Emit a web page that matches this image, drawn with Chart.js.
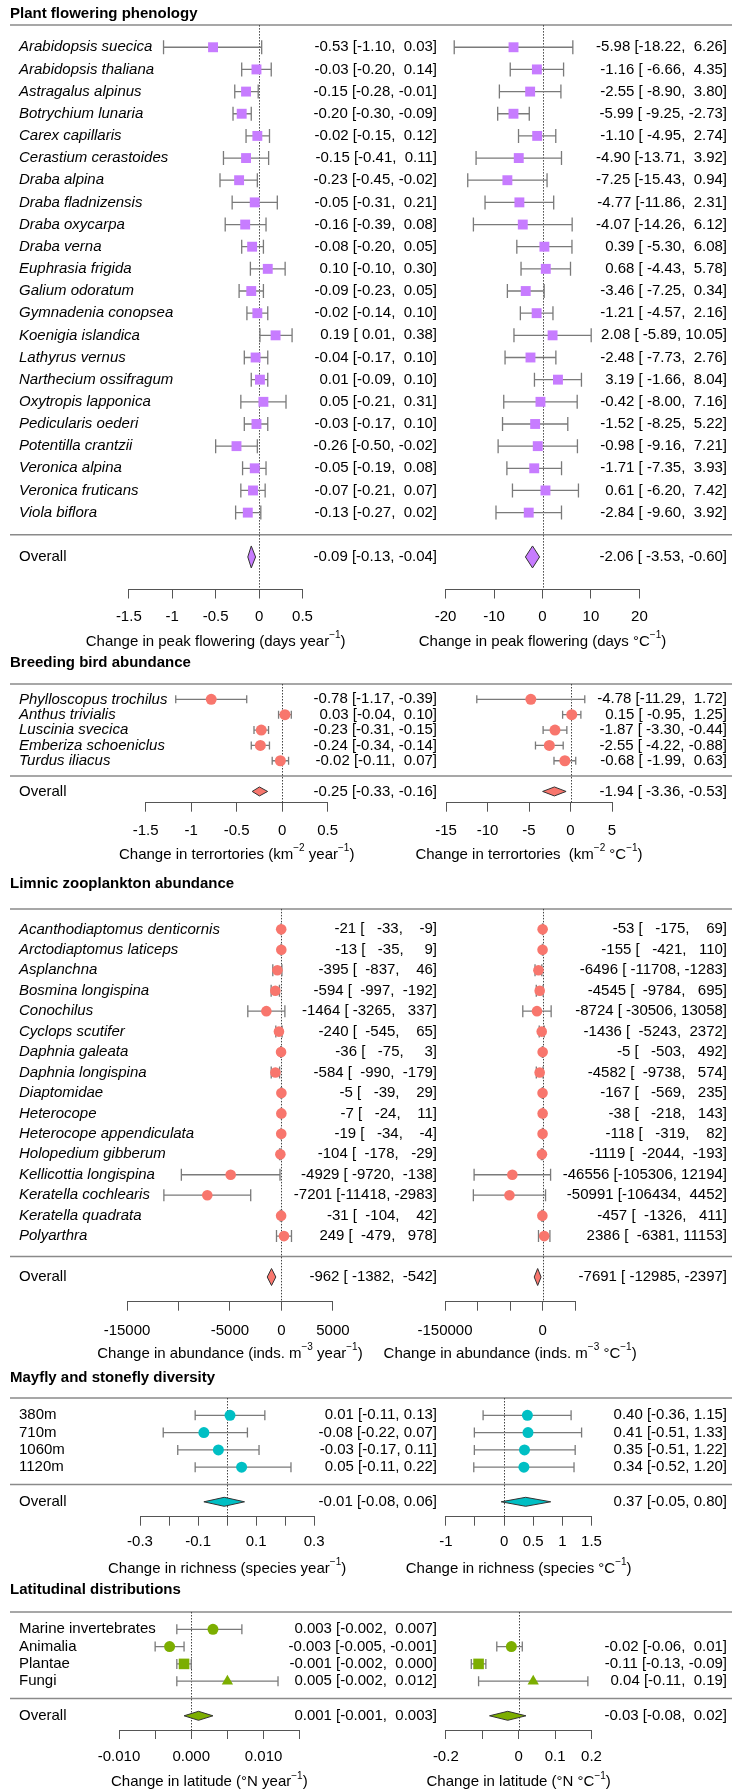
<!DOCTYPE html>
<html>
<head>
<meta charset="utf-8">
<script src="https://cdn.jsdelivr.net/npm/chart.js@4.4.1/dist/chart.umd.min.js"></script>
<style>
html, body { margin: 0; padding: 0; background: #fff; overflow: hidden; }
#page { position: relative; width: 732px; height: 1790px; overflow: hidden; background: #fff; }
canvas { position: absolute; }
</style>
</head>
<body>
<div id="page"></div>
<script>
// plant flowering phenology
const plantSpecies = ['Arabidopsis suecica', 'Arabidopsis thaliana', 'Astragalus alpinus', 'Botrychium lunaria',
    'Carex capillaris', 'Cerastium cerastoides', 'Draba alpina', 'Draba fladnizensis', 'Draba oxycarpa',
    'Draba verna', 'Euphrasia frigida', 'Galium odoratum', 'Gymnadenia conopsea', 'Koenigia islandica',
    'Lathyrus vernus', 'Narthecium ossifragum', 'Oxytropis lapponica', 'Pedicularis oederi',
    'Potentilla crantzii', 'Veronica alpina', 'Veronica fruticans', 'Viola biflora'];
const plantYearEst = [-0.53, -0.03, -0.15, -0.20, -0.02, -0.15, -0.23, -0.05, -0.16, -0.08, 0.10, -0.09, -0.02, 0.19, -0.04, 0.01, 0.05, -0.03, -0.26, -0.05, -0.07, -0.13];
const plantYearLo = [-1.10, -0.20, -0.28, -0.30, -0.15, -0.41, -0.45, -0.31, -0.39, -0.20, -0.10, -0.23, -0.14, 0.01, -0.17, -0.09, -0.21, -0.17, -0.50, -0.19, -0.21, -0.27];
const plantYearHi = [0.03, 0.14, -0.01, -0.09, 0.12, 0.11, -0.02, 0.21, 0.08, 0.05, 0.30, 0.05, 0.10, 0.38, 0.10, 0.10, 0.31, 0.10, -0.02, 0.08, 0.07, 0.02];
const plantTempEst = [-5.98, -1.16, -2.55, -5.99, -1.10, -4.90, -7.25, -4.77, -4.07, 0.39, 0.68, -3.46, -1.21, 2.08, -2.48, 3.19, -0.42, -1.52, -0.98, -1.71, 0.61, -2.84];
const plantTempLo = [-18.22, -6.66, -8.90, -9.25, -4.95, -13.71, -15.43, -11.86, -14.26, -5.30, -4.43, -7.25, -4.57, -5.89, -7.73, -1.66, -8.00, -8.25, -9.16, -7.35, -6.20, -9.60];
const plantTempHi = [6.26, 4.35, 3.80, -2.73, 2.74, 3.92, 0.94, 2.31, 6.12, 6.08, 5.78, 0.34, 2.16, 10.05, 2.76, 8.04, 7.16, 5.22, 7.21, 3.93, 7.42, 3.92];
const plantOverallYear = [-0.09, -0.13, -0.04];
const plantOverallTemp = [-2.06, -3.53, -0.60];
const plantYearTicks = [-1.5, -1, -0.5, 0, 0.5];
const plantYearTickLabels = ['-1.5', '-1', '-0.5', '0', '0.5'];
const plantTempTicks = [-20, -10, 0, 10, 20];
const plantTempTickLabels = ['-20', '-10', '0', '10', '20'];

// breeding birds
const birdSpecies = ['Phylloscopus trochilus', 'Anthus trivialis', 'Luscinia svecica', 'Emberiza schoeniclus', 'Turdus iliacus'];
const birdYearEst = [-0.78, 0.03, -0.23, -0.24, -0.02];
const birdYearLo = [-1.17, -0.04, -0.31, -0.34, -0.11];
const birdYearHi = [-0.39, 0.10, -0.15, -0.14, 0.07];
const birdTempEst = [-4.78, 0.15, -1.87, -2.55, -0.68];
const birdTempLo = [-11.29, -0.95, -3.30, -4.22, -1.99];
const birdTempHi = [1.72, 1.25, -0.44, -0.88, 0.63];
const birdOverallYear = [-0.25, -0.33, -0.16];
const birdOverallTemp = [-1.94, -3.36, -0.53];
const birdYearTicks = [-1.5, -1, -0.5, 0, 0.5];
const birdYearTickLabels = ['-1.5', '-1', '-0.5', '0', '0.5'];
const birdTempTicks = [-15, -10, -5, 0, 5];
const birdTempTickLabels = ['-15', '-10', '-5', '0', '5'];

// limnic zooplankton
const zooTaxa = ['Acanthodiaptomus denticornis', 'Arctodiaptomus laticeps', 'Asplanchna', 'Bosmina longispina',
    'Conochilus', 'Cyclops scutifer', 'Daphnia galeata', 'Daphnia longispina', 'Diaptomidae', 'Heterocope',
    'Heterocope appendiculata', 'Holopedium gibberum', 'Kellicottia longispina', 'Keratella cochlearis',
    'Keratella quadrata', 'Polyarthra'];
const zooYearEst = [-21, -13, -395, -594, -1464, -240, -36, -584, -5, -7, -19, -104, -4929, -7201, -31, 249];
const zooYearLo = [-33, -35, -837, -997, -3265, -545, -75, -990, -39, -24, -34, -178, -9720, -11418, -104, -479];
const zooYearHi = [-9, 9, 46, -192, 337, 65, 3, -179, 29, 11, -4, -29, -138, -2983, 42, 978];
const zooTempEst = [-53, -155, -6496, -4545, -8724, -1436, -5, -4582, -167, -38, -118, -1119, -46556, -50991, -457, 2386];
const zooTempLo = [-175, -421, -11708, -9784, -30506, -5243, -503, -9738, -569, -218, -319, -2044, -105306, -106434, -1326, -6381];
const zooTempHi = [69, 110, -1283, 695, 13058, 2372, 492, 574, 235, 143, 82, -193, 12194, 4452, 411, 11153];
const zooOverallYear = [-962, -1382, -542];
const zooOverallTemp = [-7691, -12985, -2397];
const zooYearTicks = [-15000, -10000, -5000, 0, 5000];
const zooYearTickLabels = ['-15000', '', '-5000', '0', '5000'];
const zooTempTicks = [-150000, -100000, -50000, 0, 50000];
const zooTempTickLabels = ['-150000', '', '', '0', ''];

// mayfly and stonefly diversity
const siteNames = ['380m', '710m', '1060m', '1120m'];
const mayYearEst = [0.01, -0.08, -0.03, 0.05];
const mayYearLo = [-0.11, -0.22, -0.17, -0.11];
const mayYearHi = [0.13, 0.07, 0.11, 0.22];
const mayTempEst = [0.40, 0.41, 0.35, 0.34];
const mayTempLo = [-0.36, -0.51, -0.51, -0.52];
const mayTempHi = [1.15, 1.33, 1.22, 1.20];
const mayOverallYear = [-0.01, -0.08, 0.06];
const mayOverallTemp = [0.37, -0.05, 0.80];
const mayYearTicks = [-0.3, -0.2, -0.1, 0, 0.1, 0.2, 0.3];
const mayYearTickLabels = ['-0.3', '', '-0.1', '', '0.1', '', '0.3'];
const mayTempTicks = [-1, -0.5, 0, 0.5, 1, 1.5];
const mayTempTickLabels = ['-1', '', '0', '0.5', '1', '1.5'];

// latitudinal distributions
const latGroups = ['Marine invertebrates', 'Animalia', 'Plantae', 'Fungi'];
const latShapes = ['circle', 'circle', 'rect', 'triangle'];
const latYearEst = [0.003, -0.003, -0.001, 0.005];
const latYearLo = [-0.002, -0.005, -0.002, -0.002];
const latYearHi = [0.007, -0.001, 0.000, 0.012];
const latTempEst = [null, -0.02, -0.11, 0.04];
const latTempLo = [null, -0.06, -0.13, -0.11];
const latTempHi = [null, 0.01, -0.09, 0.19];
const latOverallYear = [0.001, -0.001, 0.003];
const latOverallTemp = [-0.03, -0.08, 0.02];
const latYearTicks = [-0.010, -0.005, 0, 0.005, 0.010, 0.015];
const latYearTickLabels = ['-0.010', '', '0.000', '', '0.010', ''];
const latTempTicks = [-0.2, -0.1, 0, 0.1, 0.2];
const latTempTickLabels = ['-0.2', '', '0', '0.1', '0.2'];

// axis titles, [text, superscript]
const plantYearTitle = [['Change in peak flowering (days year', 0], ['\u22121', 1], [')', 0]];
const plantTempTitle = [['Change in peak flowering (days \u00B0C', 0], ['\u22121', 1], [')', 0]];
const birdYearTitle = [['Change in terrortories (km', 0], ['\u22122', 1], [' year', 0], ['\u22121', 1], [')', 0]];
const birdTempTitle = [['Change in terrortories  (km', 0], ['\u22122', 1], [' \u00B0C', 0], ['\u22121', 1], [')', 0]];
const zooYearTitle = [['Change in abundance (inds. m', 0], ['\u22123', 1], [' year', 0], ['\u22121', 1], [')', 0]];
const zooTempTitle = [['Change in abundance (inds. m', 0], ['\u22123', 1], [' \u00B0C', 0], ['\u22121', 1], [')', 0]];
const mayYearTitle = [['Change in richness (species year', 0], ['\u22121', 1], [')', 0]];
const mayTempTitle = [['Change in richness (species \u00B0C', 0], ['\u22121', 1], [')', 0]];
const latYearTitle = [['Change in latitude (\u00B0N year', 0], ['\u22121', 1], [')', 0]];
const latTempTitle = [['Change in latitude (\u00B0N \u00B0C', 0], ['\u22121', 1], [')', 0]];

const FAMILY = '"Liberation Sans", Arial, Helvetica, sans-serif';
Chart.defaults.font.family = FAMILY;
Chart.defaults.font.size = 15;
Chart.defaults.color = '#000';

const panels = [
    {
        title: 'Plant flowering phenology', labels: plantSpecies, italic: true, color: '#C77CFF',
        shapes: 'rect', radius: 7, capH: 7, diamondH: 22,
        titleY: 14, top: 25.1, rowH: 22.16, axisY: 589.5, tickGap: 27,
        sides: [
            {est: plantYearEst, lo: plantYearLo, hi: plantYearHi, overall: plantOverallYear, digits: 2,
                ticks: plantYearTicks, tickLabels: plantYearTickLabels, px: [128.8, 302.5], axisTitle: plantYearTitle},
            {est: plantTempEst, lo: plantTempLo, hi: plantTempHi, overall: plantOverallTemp, digits: 2,
                ticks: plantTempTicks, tickLabels: plantTempTickLabels, px: [445.6, 639.4], axisTitle: plantTempTitle}
        ]
    },
    {
        title: 'Breeding bird abundance', labels: birdSpecies, italic: true, color: '#F8766D',
        shapes: 'circle', radius: 5.5, capH: 4, diamondH: 9,
        titleY: 662.7, top: 684, rowH: 15.35, axisY: 802.7, tickGap: 28,
        sides: [
            {est: birdYearEst, lo: birdYearLo, hi: birdYearHi, overall: birdOverallYear, digits: 2,
                ticks: birdYearTicks, tickLabels: birdYearTickLabels, px: [145.7, 327.7], axisTitle: birdYearTitle},
            {est: birdTempEst, lo: birdTempLo, hi: birdTempHi, overall: birdOverallTemp, digits: 2,
                ticks: birdTempTicks, tickLabels: birdTempTickLabels, px: [446, 612], axisTitle: birdTempTitle}
        ]
    },
    {
        title: 'Limnic zooplankton abundance', labels: zooTaxa, italic: true, color: '#F8766D',
        shapes: 'circle', radius: 5.3, capH: 6, diamondH: 17,
        titleY: 884, top: 908.9, rowH: 20.45, axisY: 1301.7, tickGap: 29,
        sides: [
            {est: zooYearEst, lo: zooYearLo, hi: zooYearHi, overall: zooOverallYear, digits: 0,
                ticks: zooYearTicks, tickLabels: zooYearTickLabels, px: [127, 332.9], axisTitle: zooYearTitle},
            {est: zooTempEst, lo: zooTempLo, hi: zooTempHi, overall: zooOverallTemp, digits: 0,
                ticks: zooTempTicks, tickLabels: zooTempTickLabels, px: [445, 575.2], axisTitle: zooTempTitle}
        ]
    },
    {
        title: 'Mayfly and stonefly diversity', labels: siteNames, italic: false, color: '#00BFC4',
        shapes: 'circle', radius: 5.5, capH: 5, diamondH: 9,
        titleY: 1378.3, top: 1398, rowH: 17.3, axisY: 1516.7, tickGap: 25,
        sides: [
            {est: mayYearEst, lo: mayYearLo, hi: mayYearHi, overall: mayOverallYear, digits: 2,
                ticks: mayYearTicks, tickLabels: mayYearTickLabels, px: [140, 314.2], axisTitle: mayYearTitle},
            {est: mayTempEst, lo: mayTempLo, hi: mayTempHi, overall: mayOverallTemp, digits: 2,
                ticks: mayTempTicks, tickLabels: mayTempTickLabels, px: [445.8, 591.5], axisTitle: mayTempTitle}
        ]
    },
    {
        title: 'Latitudinal distributions', labels: latGroups, italic: false, color: '#7CAE00',
        shapes: latShapes, radius: 5.5, capH: 5, diamondH: 9,
        titleY: 1590, top: 1612, rowH: 17.3, axisY: 1730, tickGap: 26.5,
        sides: [
            {est: latYearEst, lo: latYearLo, hi: latYearHi, overall: latOverallYear, digits: 3,
                ticks: latYearTicks, tickLabels: latYearTickLabels, px: [119, 299.7], axisTitle: latYearTitle},
            {est: latTempEst, lo: latTempLo, hi: latTempHi, overall: latOverallTemp, digits: 2,
                ticks: latTempTicks, tickLabels: latTempTickLabels, px: [445.8, 591.5], axisTitle: latTempTitle}
        ]
    }
];

// pad each column to its widest entry, like R's format()
function fmtColumn(values, digits) {
    const s = values.map(v => v == null ? null : v.toFixed(digits));
    const w = Math.max(...s.filter(t => t != null).map(t => t.length));
    return s.map(t => t == null ? null : t.padStart(w));
}

function ciStrings(side) {
    const est = side.est.concat([side.overall[0]]);
    const lo = fmtColumn(side.lo.concat([side.overall[1]]), side.digits);
    const hi = fmtColumn(side.hi.concat([side.overall[2]]), side.digits);
    return est.map((e, i) => e == null ? null : e.toFixed(side.digits) + ' [' + lo[i] + ', ' + hi[i] + ']');
}

function drawRich(ctx, segs, cx, cy) {
    const fonts = segs.map(s => s[1] ? '10px ' + FAMILY : '15px ' + FAMILY);
    let total = 0;
    const widths = segs.map((s, i) => {
        ctx.font = fonts[i];
        const w = ctx.measureText(s[0]).width;
        total += w;
        return w;
    });
    let xx = cx - total / 2;
    ctx.textAlign = 'left';
    ctx.textBaseline = 'middle';
    segs.forEach((s, i) => {
        ctx.font = fonts[i];
        ctx.fillText(s[0], xx, s[1] ? cy - 6 : cy);
        xx += widths[i];
    });
}

function forestPlugin(panel, side, isLeft, cLeft, cTop) {
    const n = panel.labels.length;
    const texts = ciStrings(side);
    return {
        id: 'forest',
        beforeDatasetsDraw(chart) {
            const {ctx, chartArea, scales: {x, y}} = chart;
            ctx.save();
            // horizontal rules above the rows and above "Overall"
            ctx.strokeStyle = '#8a8a8a';
            ctx.lineWidth = 1.5;
            const rx0 = (isLeft ? 10 : 440) - cLeft;
            const rx1 = (isLeft ? 440 : 732) - cLeft;
            [-1, n].forEach(r => {
                const py = y.getPixelForValue(r);
                ctx.beginPath();
                ctx.moveTo(rx0, py);
                ctx.lineTo(rx1, py);
                ctx.stroke();
            });
            // dotted zero line
            const zx = Math.round(x.getPixelForValue(0)) + 0.5;
            ctx.strokeStyle = '#444';
            ctx.lineWidth = 1;
            ctx.setLineDash([1.5, 1.5]);
            ctx.beginPath();
            ctx.moveTo(zx, y.getPixelForValue(-1));
            ctx.lineTo(zx, chartArea.bottom);
            ctx.stroke();
            ctx.setLineDash([]);
            // confidence intervals
            ctx.strokeStyle = '#7a7a7a';
            ctx.lineWidth = 1.3;
            side.est.forEach((e, i) => {
                if (e == null) return;
                const py = y.getPixelForValue(i);
                const a = x.getPixelForValue(side.lo[i]);
                const b = x.getPixelForValue(side.hi[i]);
                ctx.beginPath();
                ctx.moveTo(a, py);
                ctx.lineTo(b, py);
                ctx.moveTo(a, py - panel.capH);
                ctx.lineTo(a, py + panel.capH);
                ctx.moveTo(b, py - panel.capH);
                ctx.lineTo(b, py + panel.capH);
                ctx.stroke();
            });
            ctx.restore();
        },
        afterDatasetsDraw(chart) {
            const {ctx, scales: {x, y}} = chart;
            const py = y.getPixelForValue(n + 1);
            const h = panel.diamondH / 2;
            ctx.save();
            ctx.beginPath();
            ctx.moveTo(x.getPixelForValue(side.overall[1]), py);
            ctx.lineTo(x.getPixelForValue(side.overall[0]), py - h);
            ctx.lineTo(x.getPixelForValue(side.overall[2]), py);
            ctx.lineTo(x.getPixelForValue(side.overall[0]), py + h);
            ctx.closePath();
            ctx.fillStyle = panel.color;
            ctx.fill();
            ctx.strokeStyle = '#333';
            ctx.lineWidth = 1;
            ctx.stroke();
            ctx.restore();
        },
        afterDraw(chart) {
            const {ctx, chartArea, scales: {y}} = chart;
            ctx.save();
            ctx.fillStyle = '#000';
            ctx.textBaseline = 'middle';
            if (isLeft) {
                ctx.textAlign = 'left';
                ctx.font = 'bold 15px ' + FAMILY;
                ctx.fillText(panel.title, 10 - cLeft, panel.titleY - cTop);
                ctx.font = (panel.italic ? 'italic ' : '') + '15px ' + FAMILY;
                panel.labels.forEach((lab, i) => ctx.fillText(lab, 19 - cLeft, y.getPixelForValue(i)));
                ctx.font = '15px ' + FAMILY;
                ctx.fillText('Overall', 19 - cLeft, y.getPixelForValue(n + 1));
            }
            ctx.textAlign = 'right';
            ctx.font = '15px ' + FAMILY;
            const tx = (isLeft ? 437 : 727) - cLeft;
            texts.forEach((t, i) => {
                if (t == null) return;
                const row = i < n ? i : n + 1;
                ctx.fillText(t, tx, y.getPixelForValue(row));
            });
            drawRich(ctx, side.axisTitle, (chartArea.left + chartArea.right) / 2, panel.axisY + 52 - cTop);
            ctx.restore();
        }
    };
}

const page = document.getElementById('page');

function addChart(panel, side, isLeft) {
    const cLeft = isLeft ? 0 : 380;
    const cWidth = isLeft ? 440 : 352;
    const cTop = Math.round(panel.titleY - 14);
    const cHeight = Math.min(1790, Math.round(panel.axisY + 66)) - cTop;
    const scaleH = 40;
    const canvas = document.createElement('canvas');
    canvas.width = cWidth;
    canvas.height = cHeight;
    canvas.style.left = cLeft + 'px';
    canvas.style.top = cTop + 'px';
    canvas.style.width = cWidth + 'px';
    canvas.style.height = cHeight + 'px';
    page.appendChild(canvas);

    const n = panel.labels.length;
    const yMax = (panel.axisY - panel.top) / panel.rowH - 1;
    const points = [];
    const styles = [];
    side.est.forEach((e, i) => {
        if (e == null) return;
        points.push({x: e, y: i});
        styles.push(Array.isArray(panel.shapes) ? panel.shapes[i] : panel.shapes);
    });
    const radii = styles.map(s => s === 'rect' ? 7.5 : s === 'triangle' ? 6.5 : panel.radius);
    if (!Array.isArray(panel.shapes) && panel.shapes === 'rect') radii.fill(panel.radius);

    new Chart(canvas, {
        type: 'scatter',
        data: {
            datasets: [{
                data: points,
                pointStyle: styles,
                pointRadius: radii,
                pointBackgroundColor: panel.color,
                pointBorderWidth: 0,
                clip: false
            }]
        },
        options: {
            responsive: false,
            animation: false,
            devicePixelRatio: 1,
            events: [],
            layout: {
                padding: {
                    left: side.px[0] - cLeft,
                    right: cLeft + cWidth - side.px[1],
                    top: panel.top - cTop,
                    bottom: cHeight - (panel.axisY - cTop) - scaleH
                }
            },
            plugins: {
                legend: {display: false},
                tooltip: {enabled: false}
            },
            scales: {
                x: {
                    type: 'linear',
                    min: side.ticks[0],
                    max: side.ticks[side.ticks.length - 1],
                    afterBuildTicks: ax => { ax.ticks = side.ticks.map(v => ({value: v})); },
                    afterFit: ax => { ax.height = scaleH; },
                    grid: {drawOnChartArea: false, drawTicks: true, tickLength: 9, color: '#555', lineWidth: 1},
                    border: {display: true, color: '#555', width: 1},
                    ticks: {
                        autoSkip: false,
                        maxRotation: 0,
                        minRotation: 0,
                        padding: panel.tickGap - 18,
                        color: '#000',
                        font: {size: 15},
                        callback: (v, i) => side.tickLabels[i]
                    }
                },
                y: {type: 'linear', display: false, min: -1, max: yMax, reverse: true}
            }
        },
        plugins: [forestPlugin(panel, side, isLeft, cLeft, cTop)]
    });
}

panels.forEach(p => {
    addChart(p, p.sides[0], true);
    addChart(p, p.sides[1], false);
});
</script>
</body>
</html>
